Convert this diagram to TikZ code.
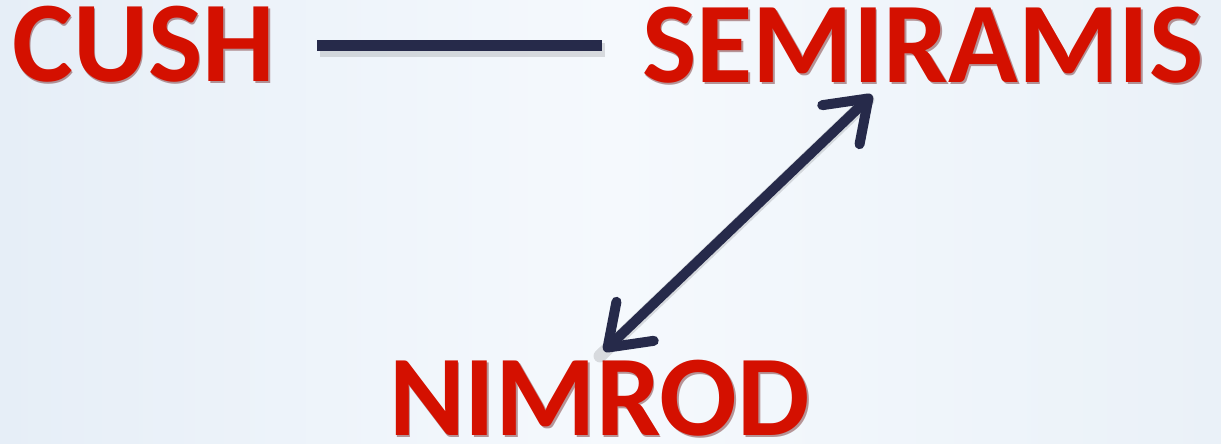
\documentclass[tikz,border=0pt]{standalone}
\usepackage{fontspec}
\setmainfont{Carlito}
\usetikzlibrary{arrows.meta}
\definecolor{navy}{HTML}{262A4A}
\definecolor{bgl}{HTML}{E6EEF7}
\definecolor{bgm}{HTML}{F5F9FD}
\definecolor{bgr}{HTML}{EAF1F8}
\definecolor{redtxt}{HTML}{D41000}
\definecolor{redshadow}{HTML}{5A0000}
\tikzset{
  wordfont/.style={font=\fontsize{115}{115}\selectfont\bfseries, inner sep=0pt, anchor=base west, text height=72pt, text depth=0pt},
  word/.style={wordfont, text=redtxt},
  wordshadow/.style={wordfont, text=redshadow, opacity=0.4},
  link/.style={draw=navy, line width=11pt},
  linkshadow/.style={draw=black, opacity=0.12, line width=14pt},
  dbl/.style={draw=navy, line width=10pt, line cap=round,
    {Straight Barb[length=38pt,width=54pt,round]}-{Straight Barb[length=38pt,width=54pt,round]}},
}
\begin{document}
\begin{tikzpicture}[x=1pt,y=1pt]
\shade[left color=bgl, right color=bgr, middle color=bgm] (0,0) rectangle (1221,444);
\useasboundingbox (0,0) rectangle (1221,444);
% shadows of words
\node[wordshadow] at (13.5,360.5) {CUSH};
\node[wordshadow] at (643.5,359.5) {SEMIRAMIS};
\node[wordshadow] at (390.5,6.5) {NIMROD};
% words
\node[word] (cush) at (12,362) {CUSH};
\node[word] (semi) at (642,361) {SEMIRAMIS};
\node[word] (nimrod) at (389,8) {NIMROD};
% connector points
\coordinate (l1) at ([shift={(42pt,36.5pt)}]cush.base east);
\coordinate (l2) at ([shift={(-40pt,37.5pt)}]semi.base west);
\coordinate (a1) at ([shift={(230pt,-12pt)}]semi.base west);
\coordinate (a2) at ([shift={(215pt,85pt)}]nimrod.base west);
% shadows
\draw[linkshadow] ([shift={(3pt,-5pt)}]l1) -- ([shift={(3pt,-5pt)}]l2);
\draw[draw=black, opacity=0.12, line width=13pt, line cap=round] ([shift={(-4pt,-5pt)}]a1) -- ([shift={(-4pt,-5pt)}]a2);
% connectors
\draw[link] (l1) -- (l2);
\draw[dbl] (a2) -- (a1);
\end{tikzpicture}
\end{document}
